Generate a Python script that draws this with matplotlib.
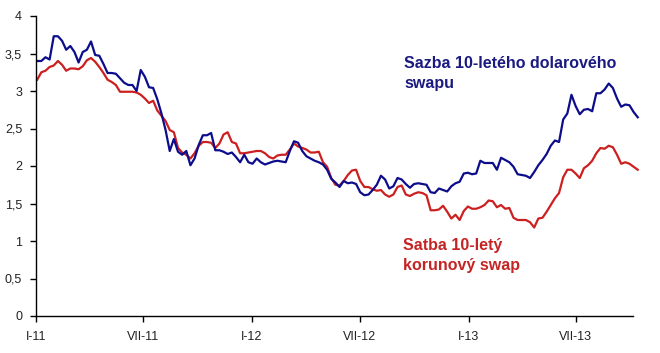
import matplotlib
matplotlib.use("Agg")
import matplotlib.pyplot as plt
import pandas as pd

plt.rcParams['font.family'] = ['Liberation Sans', 'DejaVu Sans']

# weekly observations, starting early January 2011
start_date = "2011-01-03"
usd_swap = [
    3.40, 3.40, 3.45, 3.42, 3.73, 3.73, 3.67, 3.55, 3.60, 3.52,
    3.38, 3.52, 3.55, 3.66, 3.48, 3.47, 3.36, 3.24, 3.24, 3.23,
    3.17, 3.11, 3.08, 3.08, 3.00, 3.28, 3.19, 3.05, 3.04, 2.89,
    2.70, 2.48, 2.20, 2.36, 2.19, 2.15, 2.20, 2.01, 2.10, 2.28,
    2.41, 2.41, 2.44, 2.21, 2.21, 2.19, 2.16, 2.18, 2.12, 2.05,
    2.15, 2.05, 2.03, 2.10, 2.05, 2.02, 2.04, 2.06, 2.07, 2.06,
    2.05, 2.20, 2.33, 2.31, 2.20, 2.13, 2.10, 2.07, 2.05, 2.02,
    1.95, 1.83, 1.78, 1.72, 1.80, 1.77, 1.78, 1.76, 1.65, 1.61,
    1.62, 1.68, 1.75, 1.87, 1.82, 1.70, 1.73, 1.84, 1.82, 1.76,
    1.71, 1.76, 1.77, 1.76, 1.75, 1.65, 1.64, 1.70, 1.68, 1.66,
    1.73, 1.77, 1.79, 1.90, 1.91, 1.89, 1.90, 2.07, 2.04, 2.04,
    2.04, 1.95, 2.11, 2.08, 2.05, 1.99, 1.89, 1.88, 1.87, 1.84,
    1.92, 2.01, 2.08, 2.16, 2.27, 2.34, 2.32, 2.62, 2.70, 2.95,
    2.80, 2.69, 2.75, 2.76, 2.73, 2.97, 2.97, 3.02, 3.10, 3.04,
    2.90, 2.79, 2.82, 2.81, 2.72, 2.65,
]
czk_swap = [
    3.15, 3.25, 3.27, 3.32, 3.34, 3.40, 3.35, 3.27, 3.30, 3.30,
    3.29, 3.33, 3.41, 3.44, 3.39, 3.32, 3.24, 3.15, 3.12, 3.08,
    2.99, 2.99, 2.99, 2.99, 2.98, 2.95, 2.90, 2.84, 2.87, 2.74,
    2.67, 2.60, 2.48, 2.45, 2.24, 2.18, 2.15, 2.10, 2.17, 2.27,
    2.32, 2.32, 2.31, 2.24, 2.30, 2.42, 2.45, 2.32, 2.30, 2.17,
    2.17, 2.18, 2.19, 2.20, 2.20, 2.17, 2.12, 2.10, 2.14, 2.15,
    2.15, 2.22, 2.30, 2.26, 2.24, 2.22, 2.18, 2.18, 2.19, 2.05,
    1.99, 1.84, 1.75, 1.74, 1.80, 1.88, 1.94, 1.95, 1.80, 1.72,
    1.72, 1.69, 1.67, 1.68, 1.62, 1.59, 1.62, 1.72, 1.74, 1.62,
    1.60, 1.63, 1.65, 1.64, 1.61, 1.41, 1.41, 1.42, 1.47, 1.39,
    1.30, 1.35, 1.28, 1.40, 1.46, 1.43, 1.43, 1.45, 1.48, 1.54,
    1.53, 1.45, 1.48, 1.43, 1.44, 1.31, 1.28, 1.28, 1.28, 1.25,
    1.18, 1.30, 1.31, 1.39, 1.48, 1.57, 1.64, 1.85, 1.95, 1.95,
    1.90, 1.84, 1.97, 2.01, 2.07, 2.17, 2.24, 2.23, 2.27, 2.25,
    2.15, 2.03, 2.05, 2.03, 1.99, 1.95,
]
tick_dates = ["2011-01-01", "2011-07-01", "2012-01-01", "2012-07-01",
              "2013-01-01", "2013-07-01"]
tick_labels = ["I-11", "VII-11", "I-12", "VII-12", "I-13", "VII-13"]
y_ticks = [0, 0.5, 1, 1.5, 2, 2.5, 3, 3.5, 4]
y_labels = ["0", "0,5", "1", "1,5", "2", "2,5", "3", "3,5", "4"]

dates = pd.date_range(start_date, periods=len(usd_swap), freq="7D")

fig = plt.figure(figsize=(6.6, 3.53), dpi=100)
ax = fig.add_axes([36/660, 37/353, 597/660, 300/353])

blue = "#0d0d8c"
red = "#cc2020"
ax.plot(dates, czk_swap, color=red, lw=1.6, clip_on=False)
ax.plot(dates, usd_swap, color=blue, lw=1.6, clip_on=False)

ax.set_xlim(pd.Timestamp("2011-01-01"), pd.Timestamp("2013-10-06"))
ax.set_ylim(0, 4)
ax.set_xticks(pd.to_datetime(tick_dates))
ax.set_xticklabels(tick_labels)
ax.set_yticks(y_ticks)
ax.set_yticklabels(y_labels)
ax.tick_params(axis="both", labelsize=9, length=4, width=1, direction="out",
               color="black", pad=6, labelcolor="#222222")
ax.tick_params(axis="x", pad=7)
for s in ["top", "right"]:
    ax.spines[s].set_visible(False)
for s in ["left", "bottom"]:
    ax.spines[s].set_linewidth(1)
    ax.spines[s].set_color("black")

fig.text(404/660, 1 - 56/353, "Sazba 10-letého dolarového\nswapu", color="#1a1a80",
         fontsize=11.5, fontweight="bold", va="top", ha="left", linespacing=1.45)
fig.text(403/660, 1 - 238/353, "Satba 10-letý\nkorunový swap", color="#c42424",
         fontsize=11.5, fontweight="bold", va="top", ha="left", linespacing=1.45)

fig.savefig("out.png", dpi=100)
